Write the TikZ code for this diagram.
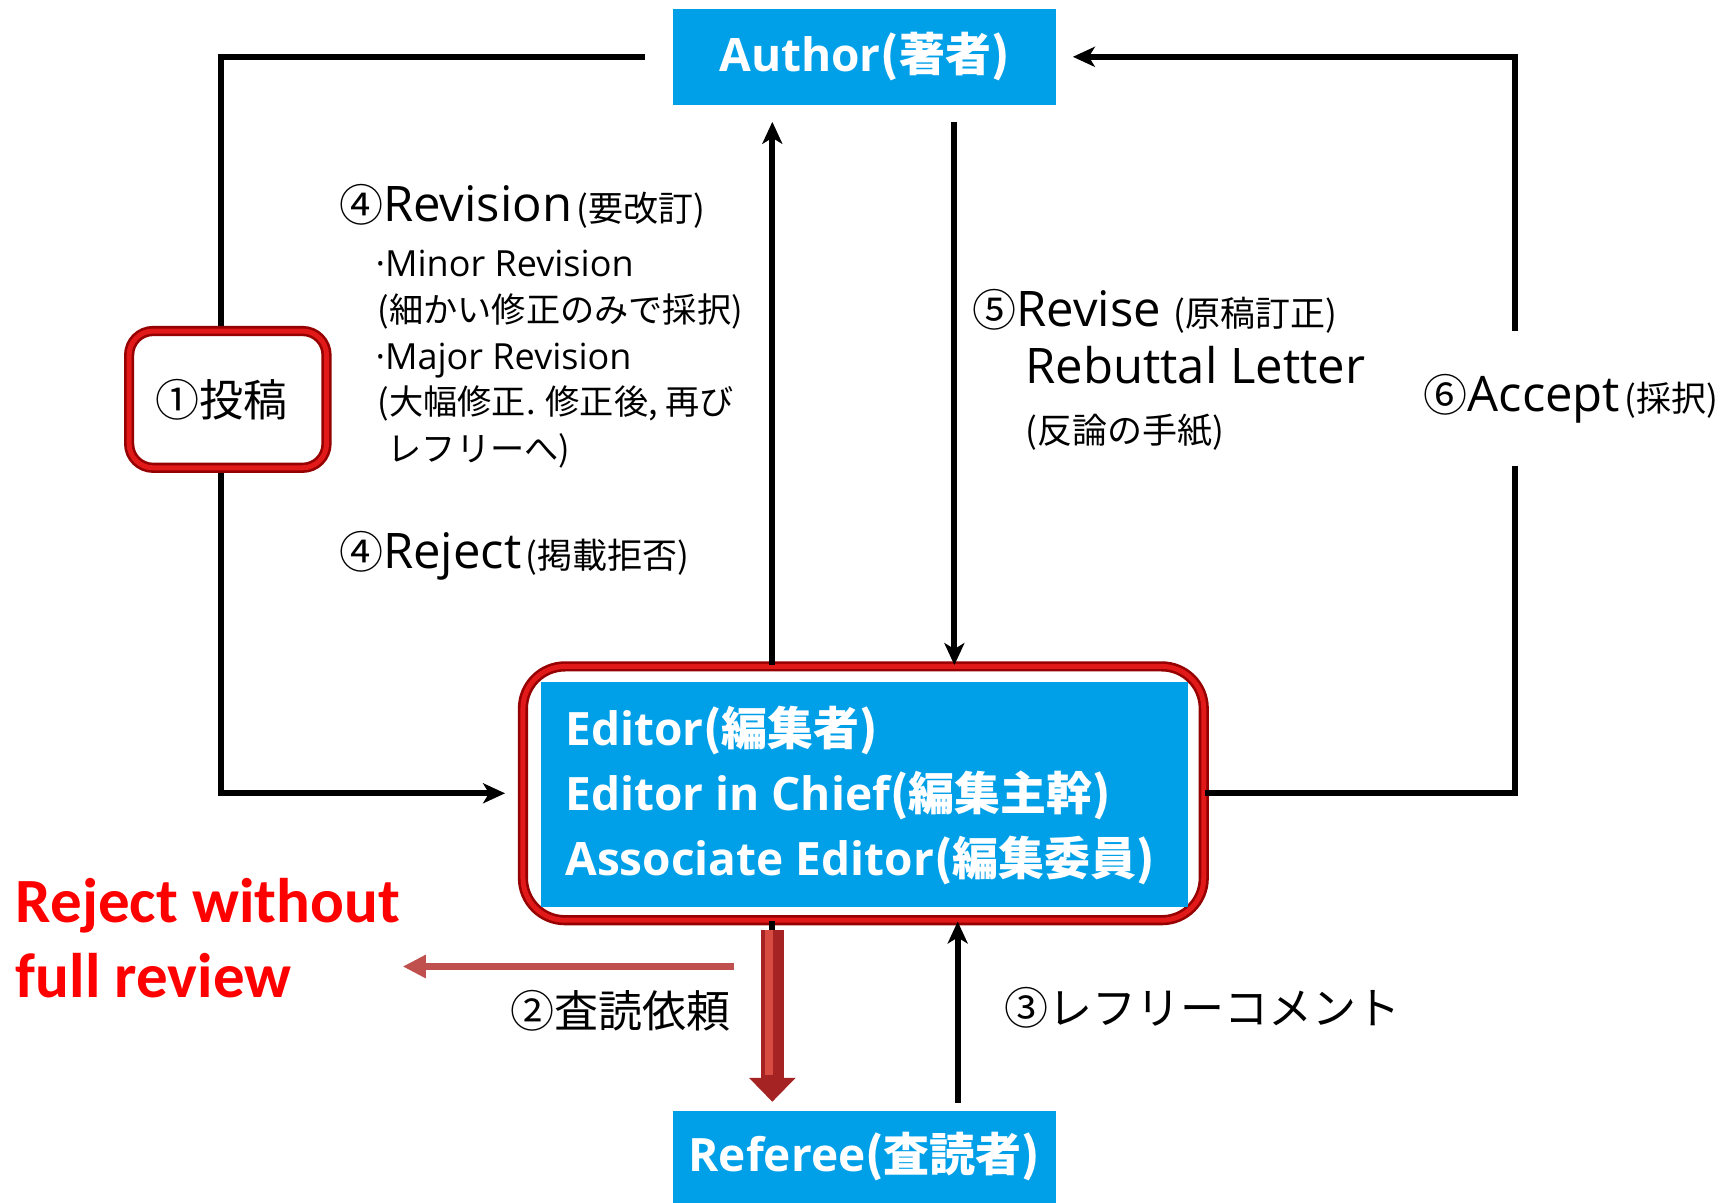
\documentclass[tikz,border=0pt]{standalone}
\usepackage{fontspec}
\setmainfont{Open Sans}
\newfontfamily\jp{Noto Sans CJK JP}
\newfontfamily\calib{Carlito}
\usetikzlibrary{arrows.meta,calc,shadows}
\definecolor{boxblue}{RGB}{0,160,233}
\definecolor{framedark}{RGB}{150,0,0}
\definecolor{framelight}{RGB}{225,25,25}
\definecolor{arrowred}{RGB}{192,80,77}
\definecolor{blockred}{RGB}{165,35,35}
\definecolor{blocklight}{RGB}{215,75,65}
\definecolor{rejred}{RGB}{255,0,0}
\pgfdeclarelayer{bg}
\pgfsetlayers{bg,main}
\newcommand\fsbig{\fontsize{24.5}{29}\selectfont}
\newcommand\fsmid{\fontsize{18}{22}\selectfont}
\newcommand\fsjp{\jp\fontsize{22}{26}\selectfont}
\newcommand\fsjps{\jp\fontsize{17.5}{20}\selectfont}
\newcommand\fsjpm{\jp\fontsize{17.1}{21}\selectfont}
\begin{document}
\begin{tikzpicture}[x=0.55166pt,y=-0.55166pt,
  bluebox/.style={fill=boxblue,text=white,inner sep=0pt,font=\bfseries\fontsize{23}{28}\selectfont},
  frame/.style={draw=framedark,line width=1.3pt,double=framelight,double distance=2.5pt,fill=white,
    drop shadow={opacity=0.3,shadow xshift=1.5pt,shadow yshift=-2pt}},
  conn/.style={line width=3pt,draw=black},
  tipend/.style={-{Stealth[length=11pt,width=10pt,inset=3pt]}},
  lbl/.style={inner sep=0pt,anchor=base west},
]
\begin{pgfonlayer}{bg}
\fill[white] (0,0) rectangle (1568,1090);
\end{pgfonlayer}
\path[use as bounding box] (0,0) rectangle (1568,1090);

% main boxes
\node[bluebox,minimum width=191.4pt,minimum height=48pt] (Author) at (783.5,51.5) {Author{\jp(著者)}};
\node[bluebox,minimum width=191.4pt,minimum height=45.8pt] (Referee) at (783.5,1048.5) {Referee{\jp(査読者)}};
\node[frame,minimum width=340.4pt,minimum height=126.9pt,rounded corners=21pt] (Editor) at (782.5,719) {};
\node[fill=boxblue,inner sep=0pt,minimum width=323.8pt,minimum height=112.5pt] (EditorBox) at (783.5,720) {};
\node[anchor=west,align=left,text=white,inner sep=0pt,font=\bfseries\fontsize{23}{32.5}\selectfont] (EditorText) at (512,721)
  {Editor{\jp(編集者)}\\Editor in Chief{\jp(編集主幹)}\\Associate Editor{\jp(編集委員)}};
\node[frame,minimum width=98.7pt,minimum height=68.4pt,rounded corners=12pt,font=\fsjp,text width=72pt,align=center] (Submit) at (206.5,362) {\hspace*{-6pt}①投稿};

% labels
\node[lbl] (RevH) at (307,201) {{\fsjp ④}{\fsbig Revision}\hspace{2pt}{\fsjps (要改訂)}};
\node[lbl] (Minor) at (340,251) {\fsmid ·Minor Revision};
\node[lbl] (MinorJ) at (342,292) {\fsjpm (細かい修正のみで採択)};
\node[lbl] (Major) at (340,335) {\fsmid ·Major Revision};
\node[lbl] (MajorJ) at (342,376) {\fsjpm (大幅修正. 修正後, 再び};
\node[lbl] (MajorJb) at (351,418) {\fsjpm レフリーへ)};
\node[lbl] (RejH) at (307,515) {{\fsjp ④}{\fsbig Reject}\hspace{2pt}{\fsjps (掲載拒否)}};
\node[lbl] (ReviseH) at (881,296) {{\fsjp ⑤}{\fsbig Revise }{\fsjps (原稿訂正)}};
\node[lbl] (Rebut) at (929,348) {\fsbig Rebuttal Letter};
\node[lbl] (RebutJ) at (929,402) {\fsjps (反論の手紙)};
\node[lbl] (AcceptH) at (1290,373) {{\fsjp ⑥}{\fsbig Accept}\hspace{2pt}{\fsjps (採択)}};
\node[lbl,font=\fsjp] (ReqRev) at (462,931) {②査読依頼};
\node[lbl,font=\fsjp] (RefCom) at (910,929) {③レフリーコメント};
\node[lbl,text=rejred,font=\calib\bfseries\fontsize{31.5}{37.5}\selectfont] (RejA) at (14,836) {Reject without};
\node[lbl,text=rejred,font=\calib\bfseries\fontsize{31.5}{37.5}\selectfont] (RejB) at (14,904) {full review};

% connectors
\coordinate (LC) at (200,51.5);
\coordinate (RC) at (1373,51.5);
\coordinate (accLo) at (1373,422);
\coordinate (accHi) at (1373,300);
\coordinate (rjs) at (665,876);
\coordinate (rje) at (365,876);
\begin{pgfonlayer}{bg}
\draw[conn,tipend,shorten <=13.8pt,shorten >=8.3pt] (Author.west) -- (LC) |- (Editor.west);
\end{pgfonlayer}
\draw[conn,tipend,shorten >=8.3pt] ($(Editor.north)+(-82.5,0)$) -- ($(Author.south)+(-83.5,0)$);
\draw[conn,tipend,shorten <=8.3pt] ($(Author.south)+(81.5,0)$) -- ($(Editor.north)+(82.5,0)$);
\draw[conn] (Editor.east) -| (accLo);
\draw[conn,tipend,shorten >=8.3pt] (accHi) -- (RC) -- (Author.east);
\draw[conn,tipend,shorten <=3.9pt] ($(Referee.north)+(84.5,0)$) -- ($(Editor.south)+(85.5,0)$);
\draw[conn] ($(Editor.south)+(-82.5,0)$) -- ++(0,14);
\draw[line width=11.6pt,draw=blockred,-{Triangle[length=12pt,width=22.6pt]}] ($(Editor.south)+(-82.5,8)$) -- ($(Referee.north)+(-83.5,-8)$);
\draw[line width=4pt,draw=blocklight] ($(Editor.south)+(-85.5,8)$) -- ($(Referee.north)+(-86.5,-32)$);
\draw[line width=3.9pt,draw=arrowred,-{Triangle[length=11.6pt,width=11pt]}] (rjs) -- (rje);
\end{tikzpicture}
\end{document}
